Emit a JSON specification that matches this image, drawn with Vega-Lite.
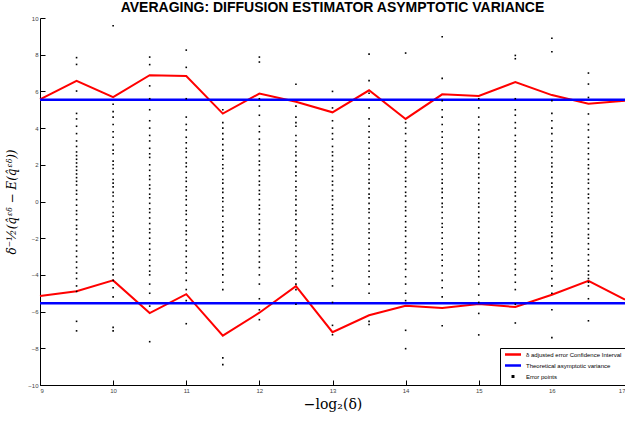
{
  "$schema": "https://vega.github.io/schema/vega-lite/v6.json",
  "autosize": {"type": "none"},
  "width": 585,
  "height": 367,
  "padding": {"left": 40, "top": 18, "right": 0, "bottom": 37},
  "background": "white",
  "title": {"text": "AVERAGING: DIFFUSION ESTIMATOR ASYMPTOTIC VARIANCE", "font": "Liberation Sans", "fontSize": 14, "fontWeight": "bold", "color": "black", "anchor": "middle", "offset": 0},
  "config": {
    "view": {"stroke": null},
    "axis": {"grid": false, "labelFont": "Liberation Sans", "labelFontSize": 6, "labelColor": "#444", "domainColor": "black", "tickColor": "black", "domainWidth": 1, "tickWidth": 1}
  },
  "datasets": {
    "lines": [
      {"series": "δ adjusted error Confidence Interval", "part": "up", "x": 9, "y": 5.57},
      {"series": "δ adjusted error Confidence Interval", "part": "up", "x": 9.5, "y": 6.58},
      {"series": "δ adjusted error Confidence Interval", "part": "up", "x": 10, "y": 5.69},
      {"series": "δ adjusted error Confidence Interval", "part": "up", "x": 10.5, "y": 6.88},
      {"series": "δ adjusted error Confidence Interval", "part": "up", "x": 11, "y": 6.84},
      {"series": "δ adjusted error Confidence Interval", "part": "up", "x": 11.5, "y": 4.79},
      {"series": "δ adjusted error Confidence Interval", "part": "up", "x": 12, "y": 5.88},
      {"series": "δ adjusted error Confidence Interval", "part": "up", "x": 12.5, "y": 5.44},
      {"series": "δ adjusted error Confidence Interval", "part": "up", "x": 13, "y": 4.86},
      {"series": "δ adjusted error Confidence Interval", "part": "up", "x": 13.5, "y": 6.06},
      {"series": "δ adjusted error Confidence Interval", "part": "up", "x": 14, "y": 4.5},
      {"series": "δ adjusted error Confidence Interval", "part": "up", "x": 14.5, "y": 5.84},
      {"series": "δ adjusted error Confidence Interval", "part": "up", "x": 15, "y": 5.75},
      {"series": "δ adjusted error Confidence Interval", "part": "up", "x": 15.5, "y": 6.51},
      {"series": "δ adjusted error Confidence Interval", "part": "up", "x": 16, "y": 5.8},
      {"series": "δ adjusted error Confidence Interval", "part": "up", "x": 16.5, "y": 5.33},
      {"series": "δ adjusted error Confidence Interval", "part": "up", "x": 17, "y": 5.49},
      {"series": "δ adjusted error Confidence Interval", "part": "low", "x": 9, "y": -5.15},
      {"series": "δ adjusted error Confidence Interval", "part": "low", "x": 9.5, "y": -4.89},
      {"series": "δ adjusted error Confidence Interval", "part": "low", "x": 10, "y": -4.3},
      {"series": "δ adjusted error Confidence Interval", "part": "low", "x": 10.5, "y": -6.08},
      {"series": "δ adjusted error Confidence Interval", "part": "low", "x": 11, "y": -5.05},
      {"series": "δ adjusted error Confidence Interval", "part": "low", "x": 11.5, "y": -7.31},
      {"series": "δ adjusted error Confidence Interval", "part": "low", "x": 12, "y": -6.06},
      {"series": "δ adjusted error Confidence Interval", "part": "low", "x": 12.5, "y": -4.61},
      {"series": "δ adjusted error Confidence Interval", "part": "low", "x": 13, "y": -7.12},
      {"series": "δ adjusted error Confidence Interval", "part": "low", "x": 13.5, "y": -6.2},
      {"series": "δ adjusted error Confidence Interval", "part": "low", "x": 14, "y": -5.68},
      {"series": "δ adjusted error Confidence Interval", "part": "low", "x": 14.5, "y": -5.8},
      {"series": "δ adjusted error Confidence Interval", "part": "low", "x": 15, "y": -5.59},
      {"series": "δ adjusted error Confidence Interval", "part": "low", "x": 15.5, "y": -5.75},
      {"series": "δ adjusted error Confidence Interval", "part": "low", "x": 16, "y": -5.08},
      {"series": "δ adjusted error Confidence Interval", "part": "low", "x": 16.5, "y": -4.32},
      {"series": "δ adjusted error Confidence Interval", "part": "low", "x": 17, "y": -5.35},
      {"series": "Theoretical asymptotic variance", "part": "up", "x": 9, "y": 5.54},
      {"series": "Theoretical asymptotic variance", "part": "up", "x": 17, "y": 5.54},
      {"series": "Theoretical asymptotic variance", "part": "low", "x": 9, "y": -5.54},
      {"series": "Theoretical asymptotic variance", "part": "low", "x": 17, "y": -5.54}
    ],
    "pts": [
      {"x":9.5,"y":7.84},{"x":9.5,"y":7.47},{"x":9.5,"y":6.02},{"x":9.5,"y":4.8},{"x":9.5,"y":4.5},{"x":9.5,"y":4.1},{"x":9.5,"y":3.7},{"x":9.5,"y":3.3},{"x":9.5,"y":3.0},{"x":9.5,"y":2.7},{"x":9.5,"y":2.5},{"x":9.5,"y":2.3},{"x":9.5,"y":2.1},{"x":9.5,"y":1.9},{"x":9.5,"y":1.7},{"x":9.5,"y":1.5},{"x":9.5,"y":1.3},{"x":9.5,"y":1.1},{"x":9.5,"y":0.9},{"x":9.5,"y":0.6},{"x":9.5,"y":0.4},{"x":9.5,"y":0.1},{"x":9.5,"y":-0.2},{"x":9.5,"y":-0.5},{"x":9.5,"y":-0.7},{"x":9.5,"y":-1.0},{"x":9.5,"y":-1.3},{"x":9.5,"y":-1.5},{"x":9.5,"y":-1.8},{"x":9.5,"y":-2.1},{"x":9.5,"y":-2.4},{"x":9.5,"y":-2.7},{"x":9.5,"y":-3.0},{"x":9.5,"y":-3.3},{"x":9.5,"y":-3.6},{"x":9.5,"y":-3.9},{"x":9.5,"y":-4.2},{"x":9.5,"y":-4.6},{"x":9.5,"y":-4.9},{"x":9.5,"y":-6.53},{"x":9.5,"y":-7.05},
      {"x":10,"y":9.58},{"x":10,"y":5.3},{"x":10,"y":4.9},{"x":10,"y":4.6},{"x":10,"y":4.2},{"x":10,"y":3.8},{"x":10,"y":3.5},{"x":10,"y":3.1},{"x":10,"y":2.8},{"x":10,"y":2.6},{"x":10,"y":2.2},{"x":10,"y":2.0},{"x":10,"y":1.8},{"x":10,"y":1.5},{"x":10,"y":1.2},{"x":10,"y":1.0},{"x":10,"y":0.8},{"x":10,"y":0.5},{"x":10,"y":0.3},{"x":10,"y":0.0},{"x":10,"y":-0.3},{"x":10,"y":-0.6},{"x":10,"y":-0.8},{"x":10,"y":-1.1},{"x":10,"y":-1.4},{"x":10,"y":-1.6},{"x":10,"y":-1.9},{"x":10,"y":-2.2},{"x":10,"y":-2.5},{"x":10,"y":-2.8},{"x":10,"y":-3.1},{"x":10,"y":-3.4},{"x":10,"y":-3.7},{"x":10,"y":-4.0},{"x":10,"y":-4.3},{"x":10,"y":-4.7},{"x":10,"y":-5.2},{"x":10,"y":-6.86},{"x":10,"y":-7.05},
      {"x":10.5,"y":7.87},{"x":10.5,"y":7.46},{"x":10.5,"y":6.3},{"x":10.5,"y":5.6},{"x":10.5,"y":5.0},{"x":10.5,"y":4.4},{"x":10.5,"y":4.0},{"x":10.5,"y":3.6},{"x":10.5,"y":3.3},{"x":10.5,"y":2.9},{"x":10.5,"y":2.6},{"x":10.5,"y":2.4},{"x":10.5,"y":2.0},{"x":10.5,"y":1.7},{"x":10.5,"y":1.4},{"x":10.5,"y":1.2},{"x":10.5,"y":0.9},{"x":10.5,"y":0.7},{"x":10.5,"y":0.4},{"x":10.5,"y":0.2},{"x":10.5,"y":-0.1},{"x":10.5,"y":-0.4},{"x":10.5,"y":-0.6},{"x":10.5,"y":-0.9},{"x":10.5,"y":-1.2},{"x":10.5,"y":-1.5},{"x":10.5,"y":-1.7},{"x":10.5,"y":-2.0},{"x":10.5,"y":-2.3},{"x":10.5,"y":-2.6},{"x":10.5,"y":-2.9},{"x":10.5,"y":-3.2},{"x":10.5,"y":-3.5},{"x":10.5,"y":-3.8},{"x":10.5,"y":-4.0},{"x":10.5,"y":-4.5},{"x":10.5,"y":-5.0},{"x":10.5,"y":-5.7},{"x":10.5,"y":-7.64},
      {"x":11,"y":8.25},{"x":11,"y":7.31},{"x":11,"y":5.6},{"x":11,"y":4.6},{"x":11,"y":4.2},{"x":11,"y":3.9},{"x":11,"y":3.5},{"x":11,"y":3.2},{"x":11,"y":2.9},{"x":11,"y":2.7},{"x":11,"y":2.4},{"x":11,"y":2.1},{"x":11,"y":1.9},{"x":11,"y":1.6},{"x":11,"y":1.3},{"x":11,"y":1.1},{"x":11,"y":0.8},{"x":11,"y":0.6},{"x":11,"y":0.3},{"x":11,"y":0.1},{"x":11,"y":-0.2},{"x":11,"y":-0.5},{"x":11,"y":-0.7},{"x":11,"y":-1.0},{"x":11,"y":-1.3},{"x":11,"y":-1.6},{"x":11,"y":-1.8},{"x":11,"y":-2.1},{"x":11,"y":-2.4},{"x":11,"y":-2.7},{"x":11,"y":-3.0},{"x":11,"y":-3.3},{"x":11,"y":-3.6},{"x":11,"y":-3.9},{"x":11,"y":-4.3},{"x":11,"y":-4.8},{"x":11,"y":-5.4},{"x":11,"y":-6.66},
      {"x":11.5,"y":5.0},{"x":11.5,"y":4.3},{"x":11.5,"y":4.0},{"x":11.5,"y":3.7},{"x":11.5,"y":3.4},{"x":11.5,"y":3.1},{"x":11.5,"y":2.8},{"x":11.5,"y":2.5},{"x":11.5,"y":2.3},{"x":11.5,"y":2.0},{"x":11.5,"y":1.8},{"x":11.5,"y":1.5},{"x":11.5,"y":1.2},{"x":11.5,"y":1.0},{"x":11.5,"y":0.7},{"x":11.5,"y":0.5},{"x":11.5,"y":0.2},{"x":11.5,"y":0.0},{"x":11.5,"y":-0.3},{"x":11.5,"y":-0.5},{"x":11.5,"y":-0.8},{"x":11.5,"y":-1.1},{"x":11.5,"y":-1.4},{"x":11.5,"y":-1.6},{"x":11.5,"y":-1.9},{"x":11.5,"y":-2.2},{"x":11.5,"y":-2.5},{"x":11.5,"y":-2.8},{"x":11.5,"y":-3.1},{"x":11.5,"y":-3.4},{"x":11.5,"y":-3.7},{"x":11.5,"y":-4.0},{"x":11.5,"y":-4.4},{"x":11.5,"y":-4.8},{"x":11.5,"y":-8.52},{"x":11.5,"y":-8.89},
      {"x":12,"y":7.87},{"x":12,"y":7.6},{"x":12,"y":5.6},{"x":12,"y":5.2},{"x":12,"y":4.7},{"x":12,"y":4.1},{"x":12,"y":3.8},{"x":12,"y":3.4},{"x":12,"y":3.1},{"x":12,"y":2.8},{"x":12,"y":2.5},{"x":12,"y":2.2},{"x":12,"y":2.0},{"x":12,"y":1.7},{"x":12,"y":1.4},{"x":12,"y":1.1},{"x":12,"y":0.9},{"x":12,"y":0.6},{"x":12,"y":0.4},{"x":12,"y":0.1},{"x":12,"y":-0.2},{"x":12,"y":-0.4},{"x":12,"y":-0.7},{"x":12,"y":-1.0},{"x":12,"y":-1.2},{"x":12,"y":-1.5},{"x":12,"y":-1.8},{"x":12,"y":-2.1},{"x":12,"y":-2.4},{"x":12,"y":-2.7},{"x":12,"y":-3.0},{"x":12,"y":-3.3},{"x":12,"y":-3.6},{"x":12,"y":-4.0},{"x":12,"y":-4.5},{"x":12,"y":-5.3},{"x":12,"y":-5.9},{"x":12,"y":-6.44},
      {"x":12.5,"y":6.39},{"x":12.5,"y":5.2},{"x":12.5,"y":4.6},{"x":12.5,"y":4.3},{"x":12.5,"y":4.1},{"x":12.5,"y":3.6},{"x":12.5,"y":3.3},{"x":12.5,"y":3.0},{"x":12.5,"y":2.7},{"x":12.5,"y":2.5},{"x":12.5,"y":2.2},{"x":12.5,"y":1.9},{"x":12.5,"y":1.6},{"x":12.5,"y":1.4},{"x":12.5,"y":1.1},{"x":12.5,"y":0.8},{"x":12.5,"y":0.6},{"x":12.5,"y":0.3},{"x":12.5,"y":0.1},{"x":12.5,"y":-0.2},{"x":12.5,"y":-0.5},{"x":12.5,"y":-0.7},{"x":12.5,"y":-1.0},{"x":12.5,"y":-1.3},{"x":12.5,"y":-1.6},{"x":12.5,"y":-1.8},{"x":12.5,"y":-2.1},{"x":12.5,"y":-2.4},{"x":12.5,"y":-2.7},{"x":12.5,"y":-3.0},{"x":12.5,"y":-3.3},{"x":12.5,"y":-3.6},{"x":12.5,"y":-3.9},{"x":12.5,"y":-4.2},{"x":12.5,"y":-4.5},{"x":12.5,"y":-4.8},{"x":12.5,"y":-5.6},
      {"x":13,"y":6.0},{"x":13,"y":5.1},{"x":13,"y":4.4},{"x":13,"y":4.0},{"x":13,"y":3.7},{"x":13,"y":3.4},{"x":13,"y":3.0},{"x":13,"y":2.7},{"x":13,"y":2.5},{"x":13,"y":2.2},{"x":13,"y":1.9},{"x":13,"y":1.7},{"x":13,"y":1.4},{"x":13,"y":1.1},{"x":13,"y":0.9},{"x":13,"y":0.6},{"x":13,"y":0.3},{"x":13,"y":0.1},{"x":13,"y":-0.2},{"x":13,"y":-0.4},{"x":13,"y":-0.7},{"x":13,"y":-1.0},{"x":13,"y":-1.2},{"x":13,"y":-1.5},{"x":13,"y":-1.8},{"x":13,"y":-2.1},{"x":13,"y":-2.3},{"x":13,"y":-2.6},{"x":13,"y":-2.9},{"x":13,"y":-3.2},{"x":13,"y":-3.5},{"x":13,"y":-3.8},{"x":13,"y":-4.2},{"x":13,"y":-4.6},{"x":13,"y":-5.5},{"x":13,"y":-6.75},{"x":13,"y":-7.26},
      {"x":13.5,"y":8.03},{"x":13.5,"y":6.59},{"x":13.5,"y":5.9},{"x":13.5,"y":5.1},{"x":13.5,"y":4.5},{"x":13.5,"y":4.1},{"x":13.5,"y":3.8},{"x":13.5,"y":3.5},{"x":13.5,"y":3.2},{"x":13.5,"y":2.9},{"x":13.5,"y":2.6},{"x":13.5,"y":2.3},{"x":13.5,"y":2.0},{"x":13.5,"y":1.8},{"x":13.5,"y":1.5},{"x":13.5,"y":1.2},{"x":13.5,"y":1.0},{"x":13.5,"y":0.7},{"x":13.5,"y":0.4},{"x":13.5,"y":0.2},{"x":13.5,"y":-0.1},{"x":13.5,"y":-0.4},{"x":13.5,"y":-0.6},{"x":13.5,"y":-0.9},{"x":13.5,"y":-1.2},{"x":13.5,"y":-1.5},{"x":13.5,"y":-1.7},{"x":13.5,"y":-2.0},{"x":13.5,"y":-2.3},{"x":13.5,"y":-2.6},{"x":13.5,"y":-2.9},{"x":13.5,"y":-3.2},{"x":13.5,"y":-3.5},{"x":13.5,"y":-3.8},{"x":13.5,"y":-4.1},{"x":13.5,"y":-4.5},{"x":13.5,"y":-5.0},{"x":13.5,"y":-6.53},{"x":13.5,"y":-6.7},
      {"x":14,"y":8.09},{"x":14,"y":4.3},{"x":14,"y":4.0},{"x":14,"y":3.7},{"x":14,"y":3.3},{"x":14,"y":3.0},{"x":14,"y":2.7},{"x":14,"y":2.4},{"x":14,"y":2.2},{"x":14,"y":1.9},{"x":14,"y":1.6},{"x":14,"y":1.3},{"x":14,"y":1.1},{"x":14,"y":0.8},{"x":14,"y":0.5},{"x":14,"y":0.3},{"x":14,"y":0.0},{"x":14,"y":-0.3},{"x":14,"y":-0.5},{"x":14,"y":-0.8},{"x":14,"y":-1.1},{"x":14,"y":-1.4},{"x":14,"y":-1.6},{"x":14,"y":-1.9},{"x":14,"y":-2.2},{"x":14,"y":-2.5},{"x":14,"y":-2.8},{"x":14,"y":-3.1},{"x":14,"y":-3.4},{"x":14,"y":-3.7},{"x":14,"y":-4.1},{"x":14,"y":-4.5},{"x":14,"y":-5.0},{"x":14,"y":-5.4},{"x":14,"y":-7.02},{"x":14,"y":-8.02},
      {"x":14.5,"y":8.98},{"x":14.5,"y":6.71},{"x":14.5,"y":5.5},{"x":14.5,"y":5.0},{"x":14.5,"y":4.6},{"x":14.5,"y":4.2},{"x":14.5,"y":3.8},{"x":14.5,"y":3.5},{"x":14.5,"y":3.2},{"x":14.5,"y":2.9},{"x":14.5,"y":2.6},{"x":14.5,"y":2.3},{"x":14.5,"y":2.1},{"x":14.5,"y":1.8},{"x":14.5,"y":1.5},{"x":14.5,"y":1.2},{"x":14.5,"y":1.0},{"x":14.5,"y":0.7},{"x":14.5,"y":0.5},{"x":14.5,"y":0.2},{"x":14.5,"y":-0.1},{"x":14.5,"y":-0.3},{"x":14.5,"y":-0.6},{"x":14.5,"y":-0.9},{"x":14.5,"y":-1.2},{"x":14.5,"y":-1.4},{"x":14.5,"y":-1.7},{"x":14.5,"y":-2.0},{"x":14.5,"y":-2.3},{"x":14.5,"y":-2.6},{"x":14.5,"y":-2.9},{"x":14.5,"y":-3.2},{"x":14.5,"y":-3.5},{"x":14.5,"y":-3.9},{"x":14.5,"y":-4.3},{"x":14.5,"y":-4.7},{"x":14.5,"y":-5.2},{"x":14.5,"y":-6.77},
      {"x":15,"y":5.6},{"x":15,"y":5.1},{"x":15,"y":4.6},{"x":15,"y":4.2},{"x":15,"y":3.9},{"x":15,"y":3.5},{"x":15,"y":3.2},{"x":15,"y":2.9},{"x":15,"y":2.6},{"x":15,"y":2.4},{"x":15,"y":2.1},{"x":15,"y":1.8},{"x":15,"y":1.5},{"x":15,"y":1.3},{"x":15,"y":1.0},{"x":15,"y":0.7},{"x":15,"y":0.5},{"x":15,"y":0.2},{"x":15,"y":-0.1},{"x":15,"y":-0.3},{"x":15,"y":-0.6},{"x":15,"y":-0.9},{"x":15,"y":-1.1},{"x":15,"y":-1.4},{"x":15,"y":-1.7},{"x":15,"y":-2.0},{"x":15,"y":-2.3},{"x":15,"y":-2.6},{"x":15,"y":-2.9},{"x":15,"y":-3.2},{"x":15,"y":-3.5},{"x":15,"y":-3.8},{"x":15,"y":-4.1},{"x":15,"y":-4.5},{"x":15,"y":-5.1},{"x":15,"y":-5.5},{"x":15,"y":-6.1},{"x":15,"y":-7.27},
      {"x":15.5,"y":7.96},{"x":15.5,"y":7.78},{"x":15.5,"y":5.6},{"x":15.5,"y":5.0},{"x":15.5,"y":4.7},{"x":15.5,"y":4.3},{"x":15.5,"y":4.0},{"x":15.5,"y":3.6},{"x":15.5,"y":3.3},{"x":15.5,"y":3.0},{"x":15.5,"y":2.7},{"x":15.5,"y":2.4},{"x":15.5,"y":2.2},{"x":15.5,"y":1.9},{"x":15.5,"y":1.6},{"x":15.5,"y":1.3},{"x":15.5,"y":1.1},{"x":15.5,"y":0.8},{"x":15.5,"y":0.5},{"x":15.5,"y":0.3},{"x":15.5,"y":0.0},{"x":15.5,"y":-0.3},{"x":15.5,"y":-0.5},{"x":15.5,"y":-0.8},{"x":15.5,"y":-1.1},{"x":15.5,"y":-1.4},{"x":15.5,"y":-1.6},{"x":15.5,"y":-1.9},{"x":15.5,"y":-2.2},{"x":15.5,"y":-2.5},{"x":15.5,"y":-2.8},{"x":15.5,"y":-3.1},{"x":15.5,"y":-3.4},{"x":15.5,"y":-3.7},{"x":15.5,"y":-4.0},{"x":15.5,"y":-4.4},{"x":15.5,"y":-4.8},{"x":15.5,"y":-5.6},{"x":15.5,"y":-6.62},
      {"x":16,"y":8.9},{"x":16,"y":8.16},{"x":16,"y":5.5},{"x":16,"y":4.8},{"x":16,"y":4.4},{"x":16,"y":4.0},{"x":16,"y":3.7},{"x":16,"y":3.3},{"x":16,"y":3.0},{"x":16,"y":2.7},{"x":16,"y":2.4},{"x":16,"y":2.1},{"x":16,"y":1.9},{"x":16,"y":1.6},{"x":16,"y":1.3},{"x":16,"y":1.0},{"x":16,"y":0.8},{"x":16,"y":0.5},{"x":16,"y":0.2},{"x":16,"y":0.0},{"x":16,"y":-0.3},{"x":16,"y":-0.6},{"x":16,"y":-0.8},{"x":16,"y":-1.1},{"x":16,"y":-1.4},{"x":16,"y":-1.7},{"x":16,"y":-1.9},{"x":16,"y":-2.2},{"x":16,"y":-2.5},{"x":16,"y":-2.8},{"x":16,"y":-3.1},{"x":16,"y":-3.5},{"x":16,"y":-3.8},{"x":16,"y":-4.2},{"x":16,"y":-4.6},{"x":16,"y":-5.0},{"x":16,"y":-5.9},{"x":16,"y":-7.42},
      {"x":16.5,"y":7.0},{"x":16.5,"y":6.4},{"x":16.5,"y":5.67},{"x":16.5,"y":4.77},{"x":16.5,"y":4.2},{"x":16.5,"y":3.9},{"x":16.5,"y":3.5},{"x":16.5,"y":3.2},{"x":16.5,"y":2.9},{"x":16.5,"y":2.6},{"x":16.5,"y":2.3},{"x":16.5,"y":2.0},{"x":16.5,"y":1.8},{"x":16.5,"y":1.5},{"x":16.5,"y":1.2},{"x":16.5,"y":1.0},{"x":16.5,"y":0.7},{"x":16.5,"y":0.4},{"x":16.5,"y":0.2},{"x":16.5,"y":-0.1},{"x":16.5,"y":-0.4},{"x":16.5,"y":-0.6},{"x":16.5,"y":-0.9},{"x":16.5,"y":-1.2},{"x":16.5,"y":-1.5},{"x":16.5,"y":-1.8},{"x":16.5,"y":-2.0},{"x":16.5,"y":-2.3},{"x":16.5,"y":-2.6},{"x":16.5,"y":-2.9},{"x":16.5,"y":-3.2},{"x":16.5,"y":-3.5},{"x":16.5,"y":-3.8},{"x":16.5,"y":-4.0},{"x":16.5,"y":-4.2},{"x":16.5,"y":-4.4},{"x":16.5,"y":-4.6},{"x":16.5,"y":-5.3},{"x":16.5,"y":-6.5}
    ]
  },
  "encoding": {
    "x": {"field": "x", "type": "quantitative", "scale": {"domain": [9, 17], "nice": false, "zero": false},
      "axis": {"values": [9,10,11,12,13,14,15,16,17], "tickSize": -5, "labelPadding": 7, "title": "−log₂(δ)", "titleFont": "DejaVu Serif", "titleFontSize": 14, "titleFontWeight": "normal", "titleColor": "black", "titlePadding": 4}},
    "y": {"field": "y", "type": "quantitative", "scale": {"domain": [-10, 10], "nice": false, "zero": false},
      "axis": {"values": [-10,-8,-6,-4,-2,0,2,4,6,8,10], "tickSize": -5, "labelPadding": 7, "title": "δ⁻½(q̂ᵋᵟ − E(q̂ᵋᵟ))", "titleFont": "DejaVu Serif", "titleFontSize": 12, "titleFontWeight": "normal", "titleFontStyle": "italic", "titleColor": "black", "titlePadding": 9}}
  },
  "layer": [
    {"data": {"name": "lines"}, "transform": [{"filter": "datum.series == 'δ adjusted error Confidence Interval'"}],
     "mark": {"type": "line", "strokeWidth": 2},
     "encoding": {"detail": {"field": "part"},
       "color": {"field": "series", "type": "nominal", "scale": {"domain": ["δ adjusted error Confidence Interval", "Theoretical asymptotic variance", "Error points"], "range": ["#ff0000", "#0000ff", "#000000"]},
         "legend": {"title": null, "orient": "bottom-right", "offset": 0, "symbolSize": 16, "symbolStrokeWidth": 2.5, "labelFont": "Liberation Sans", "labelFontSize": 6, "labelColor": "black", "rowPadding": 0, "padding": 3, "strokeColor": "black", "fillColor": "white", "symbolOffset": 6.5, "labelOffset": 9.5, "labelLimit": 200}}}},
    {"data": {"name": "lines"}, "transform": [{"filter": "datum.series == 'Theoretical asymptotic variance'"}],
     "mark": {"type": "line", "strokeWidth": 2.5},
     "encoding": {"detail": {"field": "part"}, "color": {"field": "series", "type": "nominal"}}},
    {"data": {"name": "pts"},
     "mark": {"type": "point", "size": 180, "filled": true, "opacity": 1},
     "encoding": {
       "color": {"datum": "Error points", "type": "nominal"},
       "shape": {"datum": "Error points", "type": "nominal", "scale": {"domain": ["δ adjusted error Confidence Interval", "Theoretical asymptotic variance", "Error points"], "range": ["M-4,0H4", "M-4,0H4", "M-0.12,-0.12H0.12V0.12H-0.12Z"]}, "legend": {"title": null}}
     }}
  ]
}
